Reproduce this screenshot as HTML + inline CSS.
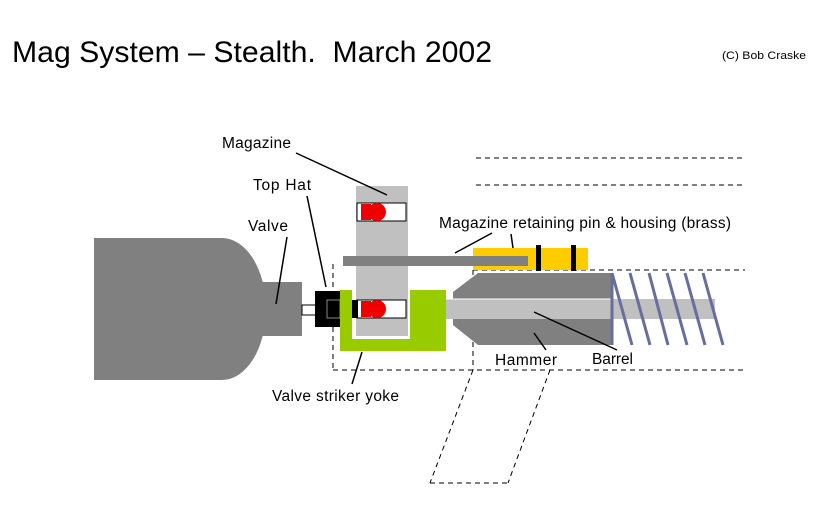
<!DOCTYPE html>
<html><head><meta charset="utf-8"><style>html,body{margin:0;padding:0;background:#fff;}svg{display:block;}</style></head>
<body>
<svg width="828" height="528" viewBox="0 0 828 528" xmlns="http://www.w3.org/2000/svg" font-family="Liberation Sans, sans-serif">
<rect width="828" height="528" fill="#fff"/>
<text x="12" y="62" font-size="30" textLength="480" lengthAdjust="spacingAndGlyphs" xml:space="preserve">Mag System – Stealth.&#160; March 2002</text>
<text x="722" y="59" font-size="11" textLength="84" lengthAdjust="spacingAndGlyphs">(C) Bob Craske</text>

<g stroke="#000" stroke-width="1" stroke-dasharray="5,4" fill="none">
<line x1="476" y1="158" x2="745" y2="158"/>
<line x1="476" y1="185" x2="745" y2="185"/>
<line x1="473" y1="270" x2="745" y2="270"/>
<line x1="333" y1="370" x2="745" y2="370"/>
<line x1="333" y1="264" x2="333" y2="370"/>
<line x1="473" y1="270" x2="473" y2="370"/>
<line x1="473" y1="370" x2="430" y2="483"/>
<line x1="550" y1="370" x2="508" y2="483"/>
<line x1="430" y1="483" x2="508" y2="483"/>
</g>

<path d="M94 238 H222 A44 71 0 0 1 222 380 H94 Z" fill="#808080"/>
<rect x="262" y="282" width="40" height="54" fill="#808080"/>
<rect x="302" y="305" width="14" height="10" fill="#fff" stroke="#000" stroke-width="1"/>
<rect x="315" y="291" width="26" height="36" fill="#000"/>
<rect x="327" y="300" width="13" height="18" fill="none" stroke="#888" stroke-width="1"/>

<rect x="340" y="290" width="106" height="61" fill="#99cc00"/>
<rect x="352" y="290" width="58" height="49" fill="#fff"/>
<rect x="356" y="186" width="52" height="150" fill="#c0c0c0"/>
<rect x="357" y="203" width="49" height="18" fill="#fff" stroke="#000"/>
<rect x="357" y="300" width="49" height="18" fill="#fff" stroke="#000"/>
<rect x="352" y="300" width="6" height="18" fill="#000"/>
<g fill="#ee0000">
<rect x="361" y="204" width="10" height="16"/><circle cx="377" cy="212" r="9"/>
<rect x="361" y="301" width="10" height="16"/><circle cx="377" cy="309" r="9"/>
</g>

<rect x="473" y="248" width="115" height="22" fill="#ffcc00"/>
<rect x="343" y="256" width="185" height="10" fill="#808080"/>
<rect x="536" y="245" width="5" height="26" fill="#000"/>
<rect x="571" y="245" width="5" height="26" fill="#000"/>

<polygon points="453,292 478,273 612,273 612,345 478,345 453,325" fill="#808080"/>
<rect x="446" y="299" width="269" height="20" fill="#c0c0c0"/>
<line x1="446" y1="299" x2="612" y2="299" stroke="#fff" stroke-width="1"/>
<line x1="612" y1="273" x2="612" y2="345" stroke="#666e9e" stroke-width="3"/>
<g stroke="#666e9e" stroke-width="3">
<line x1="612" y1="273" x2="632" y2="345"/>
<line x1="630" y1="273" x2="650" y2="345"/>
<line x1="649" y1="273" x2="668" y2="345"/>
<line x1="667" y1="273" x2="687" y2="345"/>
<line x1="685" y1="273" x2="705" y2="345"/>
<line x1="703" y1="273" x2="723" y2="345"/>
</g>

<g font-size="15.5" fill="#000" lengthAdjust="spacingAndGlyphs">
<text x="222" y="148" textLength="69">Magazine</text>
<text x="253" y="190" textLength="58">Top Hat</text>
<text x="248" y="231" textLength="40">Valve</text>
<text x="439" y="228" textLength="292">Magazine retaining pin &amp; housing (brass)</text>
<text x="272" y="401" textLength="127">Valve striker yoke</text>
<text x="495" y="365" textLength="62">Hammer</text>
<text x="592" y="364" textLength="41">Barrel</text>
</g>
<g stroke="#000" stroke-width="1.5">
<line x1="296" y1="153" x2="387" y2="195"/>
<line x1="307" y1="196" x2="326" y2="287"/>
<line x1="287" y1="237" x2="276" y2="304"/>
<line x1="492" y1="233" x2="455" y2="253"/>
<line x1="511" y1="234" x2="513" y2="248"/>
<line x1="362" y1="352" x2="352" y2="384"/>
<line x1="534" y1="333" x2="546" y2="350"/>
<line x1="534" y1="312" x2="617" y2="350"/>
</g>
</svg>
</body></html>
